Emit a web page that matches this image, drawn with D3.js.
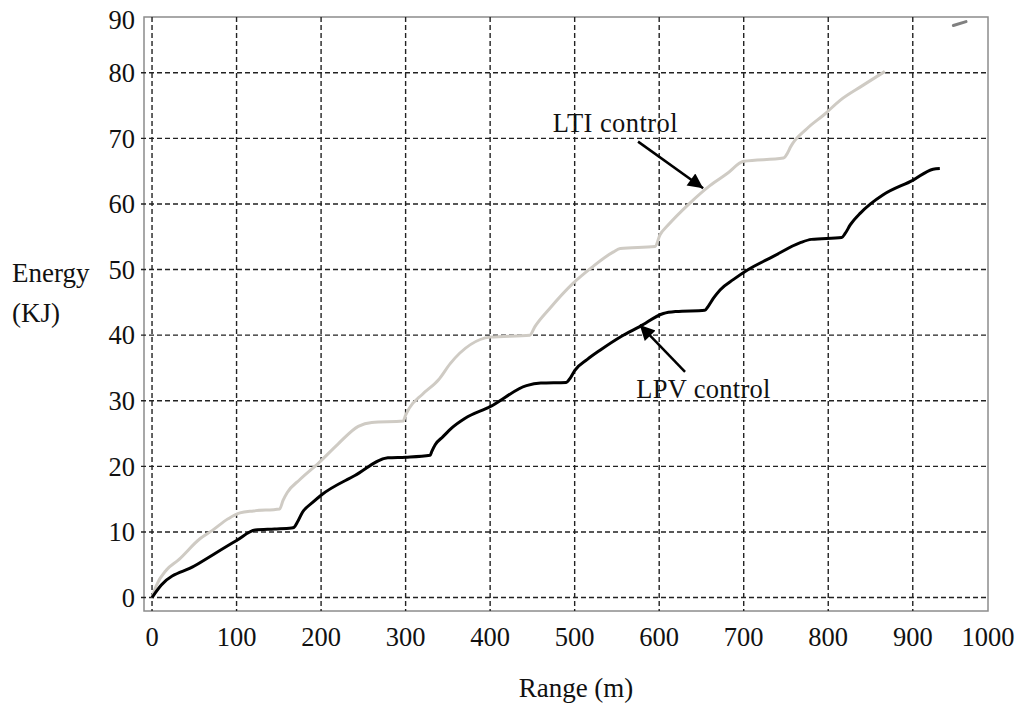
<!DOCTYPE html>
<html>
<head>
<meta charset="utf-8">
<script src="https://cdn.jsdelivr.net/npm/d3@7"></script>
<style>
  body { margin: 0; background: #fff; }
  text { font-family: "Liberation Serif", "Times New Roman", serif; fill: #111; }
</style>
</head>
<body>
<script>
// values
const lpvRange = [0, 11, 50, 100, 122, 145, 165, 168, 172, 178, 190, 200, 240, 279, 300, 329, 331, 335, 344, 355, 370, 400, 443, 460, 490, 495, 500, 515, 530, 555, 577, 605, 620, 654, 658, 664, 672, 688, 704, 735, 767, 780, 816, 820, 826, 838, 850, 865, 900, 924, 932];
const lpvEnergy = [0, 1.9, 4.8, 8.7, 10.3, 10.45, 10.6, 10.7, 11.5, 13.0, 14.5, 15.6, 18.6, 21.3, 21.4, 21.7, 22.3, 23.3, 24.5, 25.9, 27.3, 29.1, 32.3, 32.7, 32.8, 33.5, 34.6, 36.3, 37.7, 39.8, 41.3, 43.3, 43.6, 43.8, 44.4, 45.6, 46.9, 48.5, 49.9, 52.0, 54.1, 54.6, 54.9, 55.5, 56.8, 58.6, 60.0, 61.4, 63.6, 65.3, 65.4];

const ltiRange = [0, 5, 17, 31, 57, 71, 90, 104, 120, 151, 155, 160, 175, 197, 220, 244, 260, 297, 300, 304, 320, 339, 353, 400, 447, 453, 470, 498, 520, 546, 554, 595, 601, 610, 636, 660, 680, 700, 747, 752, 755, 775, 795, 814, 840, 867];
const ltiEnergy = [0, 1.8, 4.2, 5.7, 9.0, 10.2, 12.0, 12.9, 13.2, 13.5, 14.8, 16.0, 18.0, 20.5, 23.4, 26.1, 26.7, 26.9, 27.8, 28.8, 31.0, 33.2, 35.7, 39.7, 40.0, 41.3, 44.0, 47.9, 50.3, 52.7, 53.2, 53.5, 55.3, 56.7, 60.1, 62.8, 64.6, 66.5, 67.0, 67.8, 68.6, 71.5, 73.6, 75.8, 78.0, 80.2];

// short stray trace near the top right corner
const strayRange = [948, 963];
const strayEnergy = [87.2, 87.8];

const xTicks = [0, 100, 200, 300, 400, 500, 600, 700, 800, 900, 1000];
const yTicks = [0, 10, 20, 30, 40, 50, 60, 70, 80, 90];

const width = 1024, height = 713;
const plot = { left: 144, right: 988, top: 17, bottom: 611 };

const svg = d3.select("body").append("svg")
  .attr("width", width)
  .attr("height", height);

const x = d3.scaleLinear().domain([-9.5, 989]).range([plot.left, plot.right]);
const y = d3.scaleLinear().domain([-2.05, 88.5]).range([plot.bottom, plot.top]);

// frame
svg.append("rect")
  .attr("x", plot.left).attr("y", plot.top)
  .attr("width", plot.right - plot.left).attr("height", plot.bottom - plot.top)
  .attr("fill", "none").attr("stroke", "#8c8c8c").attr("stroke-width", 1.5);

// grid
const grid = svg.append("g")
  .attr("stroke", "#222").attr("stroke-width", 1.4).attr("stroke-dasharray", "5,3");

grid.selectAll("line.h")
  .data(yTicks.filter(v => y(v) > plot.top + 2))
  .join("line")
  .attr("class", "h")
  .attr("x1", plot.left - 3).attr("x2", plot.right)
  .attr("y1", d => y(d)).attr("y2", d => y(d));

grid.selectAll("line.v")
  .data(xTicks.filter(v => x(v) < plot.right - 2))
  .join("line")
  .attr("class", "v")
  .attr("x1", d => x(d)).attr("x2", d => x(d))
  .attr("y1", plot.top).attr("y2", plot.bottom);

// tick labels (the last ones sit on the frame edge)
svg.append("g").selectAll("text")
  .data(yTicks)
  .join("text")
  .attr("x", plot.left - 9)
  .attr("y", d => Math.max(y(d), plot.top + 3))
  .attr("dy", "0.35em")
  .attr("text-anchor", "end")
  .attr("font-size", 26.5)
  .text(d => d);

svg.append("g").selectAll("text")
  .data(xTicks)
  .join("text")
  .attr("x", d => Math.min(x(d), plot.right))
  .attr("y", 646)
  .attr("text-anchor", "middle")
  .attr("font-size", 26.5)
  .text(d => d);

// axis titles
svg.append("text").attr("x", 12).attr("y", 282).attr("font-size", 27).text("Energy");
svg.append("text").attr("x", 12).attr("y", 322).attr("font-size", 27).text("(KJ)");
svg.append("text").attr("x", 576).attr("y", 697).attr("text-anchor", "middle")
  .attr("font-size", 27).text("Range (m)");

// curves
const line = d3.line()
  .x(d => x(d[0]))
  .y(d => y(d[1]))
  .curve(d3.curveMonotoneX);

svg.append("path")
  .datum(d3.zip(ltiRange, ltiEnergy))
  .attr("d", line)
  .attr("fill", "none").attr("stroke", "#cfcbc4").attr("stroke-width", 3)
  .attr("stroke-linejoin", "round");

svg.append("path")
  .datum(d3.zip(lpvRange, lpvEnergy))
  .attr("d", line)
  .attr("fill", "none").attr("stroke", "#000").attr("stroke-width", 3)
  .attr("stroke-linejoin", "round");

svg.append("path")
  .datum(d3.zip(strayRange, strayEnergy))
  .attr("d", line)
  .attr("fill", "none").attr("stroke", "#808080").attr("stroke-width", 3)
  .attr("stroke-linecap", "round");

// annotations
svg.append("defs").append("marker")
  .attr("id", "head")
  .attr("viewBox", "0 0 10 10")
  .attr("refX", 10).attr("refY", 5)
  .attr("markerWidth", 20).attr("markerHeight", 15)
  .attr("markerUnits", "userSpaceOnUse")
  .attr("orient", "auto")
  .append("path")
  .attr("d", "M0,0 L10,5 L0,10 z")
  .attr("fill", "#000");

const notes = [
  { label: "LTI control", tx: 474, ty: 71.0, len: 125, from: [575, 69.5], to: [652, 62.4] },
  { label: "LPV control", tx: 573, ty: 30.4, len: 134, from: [630.6, 34.4], to: [577, 41.55] }
];

notes.forEach(n => {
  svg.append("line")
    .attr("x1", x(n.from[0])).attr("y1", y(n.from[1]))
    .attr("x2", x(n.to[0])).attr("y2", y(n.to[1]))
    .attr("stroke", "#000").attr("stroke-width", 2.5)
    .attr("marker-end", "url(#head)");
  svg.append("text")
    .attr("x", x(n.tx)).attr("y", y(n.ty))
    .attr("font-size", 26.5)
    .attr("textLength", n.len)
    .text(n.label);
});
</script>
</body>
</html>
